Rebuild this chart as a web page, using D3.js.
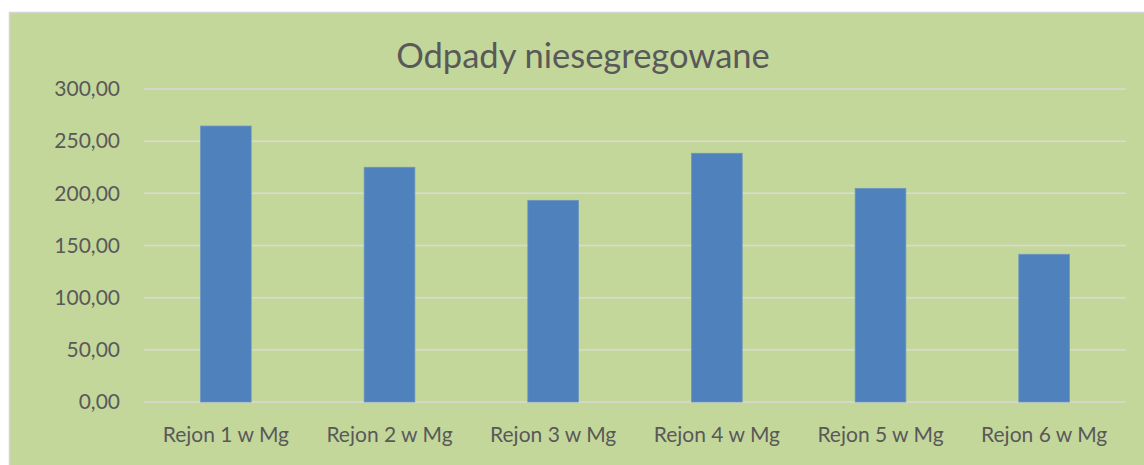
<!DOCTYPE html>
<html>
<head>
<meta charset="utf-8">
<script src="https://cdn.jsdelivr.net/npm/d3@7"></script>
<style>
  body { margin: 0; background: #fff; }
  svg { display: block; font-family: Lato, "Open Sans", sans-serif; }
</style>
</head>
<body>
<div id="container"></div>
<script>
"use strict";

const width = 1144;
const height = 465;

// data
const categories = ["Rejon 1 w Mg", "Rejon 2 w Mg", "Rejon 3 w Mg", "Rejon 4 w Mg", "Rejon 5 w Mg", "Rejon 6 w Mg"];
const values = [264.5, 225.0, 193.3, 238.4, 204.8, 141.6];
const yTicks = [0, 50, 100, 150, 200, 250, 300];
const title = "Odpady niesegregowane";

const margin = { left: 144, right: 18, top: 89, bottom: 63 };

const svg = d3.select("#container").append("svg")
    .attr("width", width)
    .attr("height", height);

// chart area background with its light border
svg.append("rect")
    .attr("x", 9.5).attr("y", 12.5)
    .attr("width", width).attr("height", height)
    .style("fill", "#c4d79b")
    .style("stroke", "#d4d4d4")
    .style("stroke-width", 1.5);

const x = d3.scaleBand()
    .domain(categories)
    .range([margin.left, width - margin.right])
    .paddingInner(0.69)
    .paddingOuter(0.345);

const y = d3.scaleLinear()
    .domain([0, 300])
    .range([height - margin.bottom, margin.top]);

const fmt = v => d3.format(".2f")(v).replace(".", ",");

// gridlines
svg.append("g").selectAll("line")
    .data(yTicks)
    .enter()
    .append("line")
    .attr("x1", margin.left)
    .attr("x2", width - margin.right)
    .attr("y1", d => y(d))
    .attr("y2", d => y(d))
    .style("stroke", "#d9d9d9")
    .style("stroke-width", 1.5);

// y axis labels
const yAxis = svg.append("g")
    .attr("transform", `translate(${margin.left - 24},0)`)
    .call(d3.axisLeft(y).tickValues(yTicks).tickFormat(fmt).tickSize(0).tickPadding(0));
yAxis.select(".domain").remove();
yAxis.selectAll("text")
    .style("font-family", "Lato, 'Open Sans', sans-serif")
    .style("font-size", "21px")
    .style("fill", "#595959");

// bars
svg.append("g").selectAll("rect")
    .data(values)
    .enter()
    .append("rect")
    .attr("x", (d, i) => x(categories[i]))
    .attr("y", d => y(d))
    .attr("width", x.bandwidth())
    .attr("height", d => y(0) - y(d))
    .style("fill", "#4f81bd")
    .style("stroke", "#6f95c0")
    .style("stroke-width", 0.75);

// x axis labels
const xAxis = svg.append("g")
    .attr("transform", `translate(0,${y(0)})`)
    .call(d3.axisBottom(x).tickSize(0).tickPadding(25));
xAxis.select(".domain").remove();
xAxis.selectAll("text")
    .style("font-family", "Lato, 'Open Sans', sans-serif")
    .style("font-size", "21px")
    .style("fill", "#595959");

// title
svg.append("text")
    .attr("x", 583)
    .attr("y", 68)
    .attr("text-anchor", "middle")
    .style("font-size", "34.5px")
    .style("fill", "#595959")
    .text(title);
</script>
</body>
</html>
